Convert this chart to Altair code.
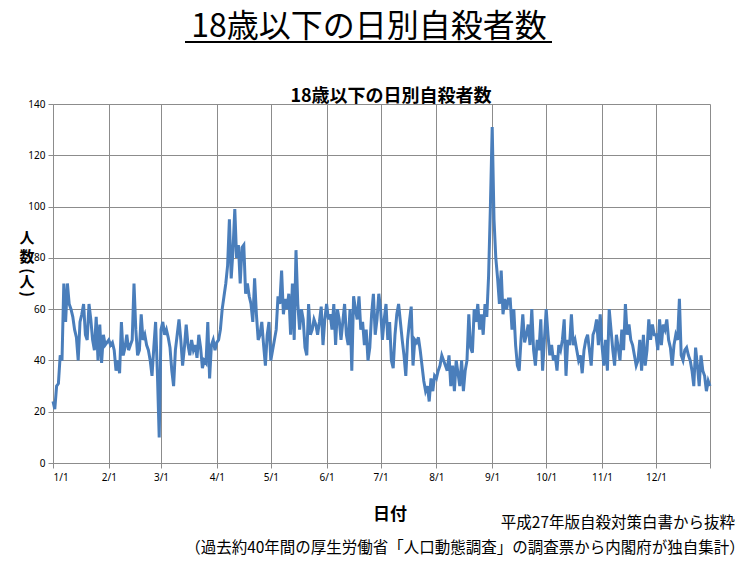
import altair as alt
import pandas as pd

# ---- data ----
jan = [24, 21, 30, 31, 42, 40, 70, 55, 70, 62, 60, 57, 52, 49, 40, 55, 58, 62, 50, 48,
       62, 56, 48, 44, 57, 40, 54, 39, 50, 46, 47]
feb = [48, 46, 47, 44, 36, 40, 35, 55, 42, 45, 50, 44, 46, 48, 70, 52, 42, 44, 58, 48,
       50, 46, 44, 40, 34, 45, 55, 35, 10]
mar = [52, 55, 50, 52, 49, 45, 36, 30, 44, 50, 56, 48, 38, 45, 54, 46, 42, 48, 44, 46,
       41, 50, 45, 37, 40, 39, 55, 33, 46, 48, 44]
apr = [47, 48, 52, 60, 65, 70, 77, 95, 72, 83, 99, 80, 85, 70, 84, 85, 66, 70, 65, 62,
       55, 72, 58, 48, 50, 55, 46, 38, 50, 55]
may = [40, 44, 48, 52, 65, 62, 75, 58, 64, 60, 66, 50, 70, 48, 83, 62, 52, 60, 56, 45,
       42, 62, 50, 52, 56, 54, 50, 55, 61, 46, 56]
jun = [62, 56, 58, 52, 62, 46, 60, 56, 48, 55, 62, 50, 46, 60, 36, 65, 60, 56, 65, 52,
       55, 46, 52, 40, 45, 58, 66, 50, 56, 66]
jul = [60, 48, 56, 62, 48, 55, 40, 37, 50, 58, 62, 55, 48, 42, 34, 48, 55, 61, 38, 48,
       47, 49, 44, 38, 32, 28, 30, 24, 33, 28, 34]
aug = [33, 36, 38, 42, 40, 38, 36, 42, 30, 38, 28, 40, 35, 30, 40, 28, 36, 40, 58, 45,
       43, 60, 55, 62, 52, 58, 50, 62, 57, 73, 100]
sep = [131, 95, 80, 72, 62, 75, 58, 64, 60, 64, 64, 52, 60, 46, 38, 36, 48, 58, 47, 50,
       54, 46, 60, 44, 38, 48, 44, 56, 36, 48]
oct_ = [60, 50, 42, 46, 40, 42, 36, 46, 44, 48, 56, 34, 48, 46, 58, 46, 48, 44, 40, 42,
        35, 44, 48, 50, 44, 38, 50, 52, 56, 46, 58]
nov = [46, 38, 48, 36, 60, 52, 44, 38, 50, 45, 40, 52, 44, 62, 50, 54, 48, 46, 42, 38,
       40, 48, 36, 50, 38, 44, 56, 48, 54, 50]
dec = [50, 44, 56, 46, 54, 52, 56, 48, 45, 38, 46, 50, 48, 64, 42, 40, 44, 45, 42, 40,
       36, 30, 45, 38, 30, 42, 36, 34, 28, 32, 30]

month_starts = [0, 31, 60, 91, 121, 152, 182, 213, 244, 274, 305, 335, 365]
month_labels = ["1/1", "2/1", "3/1", "4/1", "5/1", "6/1", "7/1", "8/1", "9/1",
                "10/1", "11/1", "12/1", ""]
y_ticks = [0, 20, 40, 60, 80, 100, 120, 140]

main_title = "18歳以下の日別自殺者数"
chart_title = "18歳以下の日別自殺者数"
# vertical axis title: 人数（人）, written top to bottom
y_title_chars = ["人", "数", "(", "人", ")"]
y_title_angles = [0, 0, 90, 0, 90]
x_title = "日付"
note1 = "平成27年版自殺対策白書から抜粋"
note2 = "（過去約40年間の厚生労働省「人口動態調査」の調査票から内閣府が独自集計）"

values = jan + feb + mar + apr + may + jun + jul + aug + sep + oct_ + nov + dec
df = pd.DataFrame({"day": list(range(len(values))), "count": values})

label_expr = " : ".join(
    f"datum.value == {v} ? '{l}'" for v, l in zip(month_starts, month_labels)
) + " : ''"

JP = "Noto Sans CJK JP"
GRID = "#8c8c8c"

line = alt.Chart(df).mark_line(color="#4A7EBB", strokeWidth=3).encode(
    x=alt.X("day:Q",
            scale=alt.Scale(domain=[0, 365], nice=False, zero=False),
            axis=alt.Axis(values=month_starts, labelExpr=label_expr, title=None,
                          grid=True, gridColor=GRID, domainColor=GRID, tickColor=GRID,
                          tickSize=5, labelFontSize=10, labelColor="#000",
                          labelFont="Noto Sans", labelPadding=4)),
    y=alt.Y("count:Q",
            scale=alt.Scale(domain=[0, 140], nice=False),
            axis=alt.Axis(values=y_ticks, title=None, grid=True, gridColor=GRID,
                          domainColor=GRID, tickColor=GRID, tickSize=5,
                          labelFontSize=10, labelColor="#000", labelFont="Noto Sans",
                          labelPadding=3)),
)


def text_layer(txt, x, y, size, weight="normal", align="center", angle=0):
    kw = dict(fontSize=size, fontWeight=weight, font=JP, align=align,
              baseline="middle", color="#000")
    if angle:
        kw["angle"] = angle
    return alt.Chart(pd.DataFrame({"t": [txt]})).mark_text(**kw).encode(
        text="t:N", x=alt.value(x), y=alt.value(y))


underline = alt.Chart(pd.DataFrame({"t": [main_title]})).mark_rule(
    color="#000", strokeWidth=2).encode(
    x=alt.value(132), x2=alt.value(499), y=alt.value(-62))

y_title_y = [134, 153, 167, 178, 190]
y_title_layers = [text_layer(c, -26, yy, 15, "bold", angle=a)
                  for c, yy, a in zip(y_title_chars, y_title_y, y_title_angles)]

chart = alt.layer(
    line,
    text_layer(main_title, 316, -77, 32),
    underline,
    text_layer(chart_title, 338, -7, 18, "bold"),
    *y_title_layers,
    text_layer(x_title, 337, 411, 17, "bold"),
    text_layer(note1, 682, 419, 15.5, "normal", align="right"),
    text_layer(note2, 412, 444, 15.5),
).properties(
    width=657, height=359,
    autosize=alt.AutoSizeParams(type="none"),
    padding={"left": 53, "top": 104, "right": 34, "bottom": 98},
    background="white",
).configure_view(stroke=None)

chart.save("out.html", embed_options={"renderer": "svg", "actions": False})
